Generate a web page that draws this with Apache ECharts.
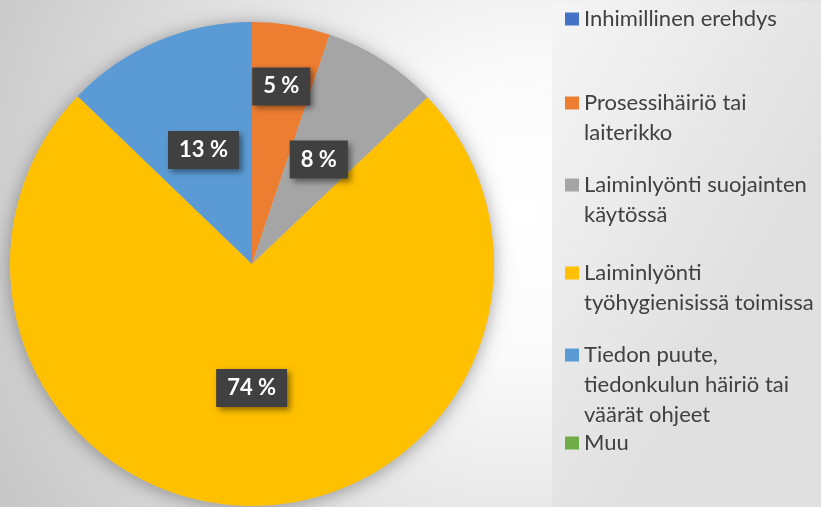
<!DOCTYPE html>
<html>
<head>
<meta charset="utf-8">
<script src="https://cdn.jsdelivr.net/npm/echarts@6/dist/echarts.min.js"></script>
<style>
  html, body { margin: 0; padding: 0; }
  #chart { width: 821px; height: 507px; }
</style>
</head>
<body>
<div id="chart"></div>
<script>
// luokat ja osuudet (%)
var categories = [
  'Inhimillinen erehdys',
  'Prosessihäiriö tai\nlaiterikko',
  'Laiminlyönti suojainten\nkäytössä',
  'Laiminlyönti\ntyöhygienisissä toimissa',
  'Tiedon puute,\ntiedonkulun häiriö tai\nväärät ohjeet',
  'Muu'
];
var values = [0, 5.2, 7.7, 74.3, 12.8, 0];
var colors = ['#4472c4', '#ed7d31', '#a5a5a5', '#ffc000', '#5b9bd5', '#70ad47'];
// labels drawn further out (outer ring series)
var outerLabelNames = [categories[1]];

// legend: first-line centre y of each entry
var legendCenters = [19, 103, 185, 273, 355, 443];
var lineH = 30;

var myChart = echarts.init(document.getElementById('chart'));

var total = values.reduce(function (a, b) { return a + b; }, 0);

var labelBox = {
  show: true,
  position: 'inside',
  formatter: function (p) { return Math.round(p.value / total * 100) + ' %'; },
  color: '#fff',
  fontSize: 22,
  fontWeight: 'bold',
  fontFamily: 'Lato',
  backgroundColor: '#404040',
  padding: [8, 11],
  shadowColor: 'rgba(0,0,0,0.45)',
  shadowBlur: 6,
  shadowOffsetX: 3,
  shadowOffsetY: 3
};

function innerData() {
  return categories.map(function (c, i) {
    var show = values[i] > 0 && outerLabelNames.indexOf(c) < 0;
    return { name: c, value: values[i], itemStyle: { color: colors[i] }, label: { show: show } };
  });
}
function outerData() {
  return categories.map(function (c, i) {
    var show = values[i] > 0 && outerLabelNames.indexOf(c) >= 0;
    return { name: c, value: values[i], itemStyle: { color: 'rgba(0,0,0,0)' }, label: { show: show } };
  });
}

// square icon on the first line, invisible segments stretch the box to full height
function iconPath(h) {
  var y = lineH / 2 - 6.5;
  return 'path://M0,0L14,0M0,' + y + 'L14,' + y + 'L14,' + (y + 13) + 'L0,' + (y + 13) + 'ZM0,' + h + 'L14,' + h;
}

var legends = categories.map(function (c, i) {
  var lines = c.split('\n').length;
  var h = lines * lineH;
  return {
    data: [c],
    orient: 'vertical',
    left: 565,
    top: legendCenters[i] - lineH / 2,
    padding: 0,
    itemWidth: 14,
    itemHeight: h,
    icon: lines === 1 ? 'rect' : iconPath(h),
    selectedMode: false,
    textStyle: {
      color: '#404040',
      fontSize: 22,
      fontFamily: 'Lato',
      lineHeight: lineH
    }
  };
});
legends[0].itemHeight = 13;
legends[0].top = legendCenters[0] - lineH / 2;
legends[5].itemHeight = 13;

var options = {
  backgroundColor: {
    type: 'radial', x: 0.64, y: 0.42, r: 1.15,
    colorStops: [
      { offset: 0, color: '#ffffff' },
      { offset: 0.25, color: '#fafafa' },
      { offset: 1, color: '#c8c8c8' }
    ]
  },
  color: colors,
  graphic: [{
    type: 'rect', left: 552, top: 3, z: -10,
    shape: { width: 269, height: 504 },
    style: {
      fill: {
        type: 'linear', x: 0, y: 0, x2: 1, y2: 0.3,
        colorStops: [{ offset: 0, color: '#f5f5f5' }, { offset: 1, color: '#e0e0e0' }]
      }
    }
  }],
  legend: legends,
  series: [
    {
      // varjo
      type: 'pie', silent: true, z: 1,
      center: [252, 264], radius: [0, 242],
      label: { show: false }, labelLine: { show: false },
      itemStyle: { color: '#c0c0c0', shadowBlur: 18, shadowColor: 'rgba(0,0,0,0.35)', shadowOffsetY: 2 },
      data: [{ name: '_', value: total }]
    },
    {
      type: 'pie', z: 2,
      center: [252, 264], radius: [0, 242],
      startAngle: 90, clockwise: true,
      emphasis: { disabled: true },
      label: labelBox, labelLine: { show: false },
      data: innerData()
    },
    {
      type: 'pie', z: 3, silent: true,
      center: [252, 264], radius: [112, 242],
      startAngle: 90, clockwise: true,
      emphasis: { disabled: true },
      label: labelBox, labelLine: { show: false },
      data: outerData()
    }
  ]
};
myChart.setOption(options);
</script>
</body>
</html>
